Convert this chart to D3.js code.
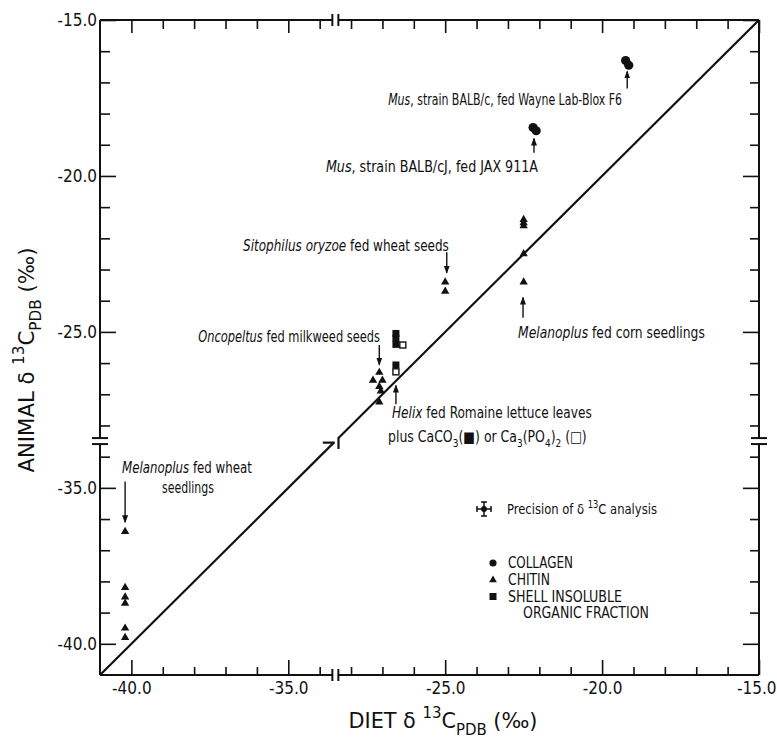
<!DOCTYPE html>
<html>
<head>
<meta charset="utf-8">
<script src="https://d3js.org/d3.v7.min.js"></script>
<style>
  body { margin: 0; background: #fff; }
  svg text { font-family: "Liberation Sans Narrow", "DejaVu Sans Condensed", "Roboto Condensed", sans-serif; fill: #111; }
</style>
</head>
<body>
<div id="chart"></div>
<script>
// diet vs animal delta 13C (per mil, PDB)
var collagen = [[-19.25, -16.3], [-19.15, -16.45], [-22.2, -18.45], [-22.1, -18.55]];
var chitin = [
  [-40.2, -36.4], [-40.2, -38.2], [-40.2, -38.5], [-40.2, -38.7], [-40.2, -39.5], [-40.2, -39.8],
  [-22.5, -21.4], [-22.5, -21.5], [-22.5, -21.6], [-22.5, -22.5], [-22.5, -23.4],
  [-25.0, -23.4], [-25.0, -23.7],
  [-27.1, -26.3], [-27.3, -26.55], [-27.0, -26.55], [-27.1, -26.75], [-27.05, -26.9], [-27.1, -27.25]
];
var shellCaCO3 = [[-26.57, -25.05], [-26.57, -25.2], [-26.57, -25.4], [-26.57, -26.06]];
var shellCaPO4 = [[-26.35, -25.42], [-26.57, -26.28]];

var xTicks = d3.range(-40, -33).concat(d3.range(-28, -14));
var yTicks = d3.range(-15, -29, -1).concat(d3.range(-34, -41, -1));
var majorX = [-40, -35, -25, -20, -15];
var majorY = [-15, -20, -25, -35, -40];

// arrows: x, from y, to y
var arrows = [
  [-19.2, -17.2, -16.65], [-22.17, -19.26, -18.8], [-24.95, -22.45, -23.1],
  [-27.1, -25.42, -26.05], [-26.57, -27.32, -26.72], [-22.52, -24.55, -23.9],
  [-40.2, -34.8, -36.1]
];

var W = 777, H = 741;
var L = 100, R = 759, T = 20, B = 675;
var cut = 5; // omitted span -33.5 .. -28.5 on both axes

var xs = d3.scaleLinear().domain([-41, -15 - cut]).range([L, R]);
var ys = d3.scaleLinear().domain([-41 + cut, -15]).range([B, T]);
function xf(v) { return v > -31 ? v - cut : v; }
function yf(v) { return v < -31 ? v + cut : v; }
function X(v) { return xs(xf(v)); }
function Y(v) { return ys(yf(v)); }

var svg = d3.select("#chart").append("svg").attr("width", W).attr("height", H);

svg.append("defs").append("marker")
  .attr("id", "head").attr("markerUnits", "userSpaceOnUse")
  .attr("markerWidth", 8).attr("markerHeight", 6)
  .attr("refX", 7).attr("refY", 3).attr("orient", "auto")
  .append("path").attr("d", "M0,0 L8,3 L0,6 z").attr("fill", "#111");

// ticks (inward on all four sides)
var minorX = xTicks.filter(function (d) { return majorX.indexOf(d) < 0; });
var minorY = yTicks.filter(function (d) { return majorY.indexOf(d) < 0; });

function ticks(axis, pos, vals, fold, size, fmt) {
  var g = svg.append("g").attr("transform", pos)
    .call(axis.tickValues(vals.map(fold)).tickSize(size).tickPadding(fmt ? 7 : 0)
      .tickFormat(function (d, i) { return fmt ? vals[i].toFixed(1) : ""; }));
  g.select(".domain").remove();
  g.selectAll("line").attr("stroke", "#111").attr("stroke-width", 1.6);
  g.selectAll("text").style("font-size", "17px");
  if (!fmt) g.selectAll("text").remove();
  return g;
}
ticks(d3.axisBottom(xs), "translate(0," + B + ")", minorX, xf, -8);
var bx = ticks(d3.axisBottom(xs), "translate(0," + B + ")", majorX, xf, -15, true);
bx.selectAll("text").filter(function (d, i) { return i === majorX.length - 1; })
  .attr("text-anchor", "end").attr("x", 17);
ticks(d3.axisTop(xs), "translate(0," + T + ")", minorX, xf, -9);
ticks(d3.axisTop(xs), "translate(0," + T + ")", majorX, xf, -13);
ticks(d3.axisLeft(ys), "translate(" + L + ",0)", minorY, yf, -10);
ticks(d3.axisLeft(ys), "translate(" + L + ",0)", majorY, yf, -16, true).selectAll("text").attr("x", -3);
ticks(d3.axisRight(ys), "translate(" + R + ",0)", minorY, yf, -9);
ticks(d3.axisRight(ys), "translate(" + R + ",0)", majorY, yf, -16);

// frame with breaks
var xb = xs(-33.5), yb = ys(-28.5), gap = 3;
var frame = svg.append("g").attr("stroke", "#111").attr("stroke-width", 2).attr("fill", "none");
[T, B].forEach(function (y) {
  frame.append("line").attr("x1", L).attr("x2", xb - gap).attr("y1", y).attr("y2", y);
  frame.append("line").attr("x1", xb + gap).attr("x2", R).attr("y1", y).attr("y2", y);
  [xb - gap, xb + gap].forEach(function (x) {
    frame.append("line").attr("x1", x).attr("x2", x).attr("y1", y - 6).attr("y2", y + 6);
  });
});
[L, R].forEach(function (x) {
  frame.append("line").attr("x1", x).attr("x2", x).attr("y1", T).attr("y2", yb - gap);
  frame.append("line").attr("x1", x).attr("x2", x).attr("y1", yb + gap).attr("y2", B);
  [yb - gap, yb + gap].forEach(function (y) {
    frame.append("line").attr("x1", x - 8).attr("x2", x + 8).attr("y1", y).attr("y2", y);
  });
});

// 1:1 line, broken like the axes
var d1 = svg.append("g").attr("stroke", "#111").attr("stroke-width", 2.2);
d1.append("line").attr("x1", X(-41)).attr("y1", Y(-41)).attr("x2", X(-33.55)).attr("y2", Y(-33.55));
d1.append("line").attr("x1", X(-33.55) - 11).attr("y1", Y(-33.55)).attr("x2", X(-33.55) + 1).attr("y2", Y(-33.55));
d1.append("line").attr("x1", X(-28.4)).attr("y1", Y(-28.4)).attr("x2", X(-15)).attr("y2", Y(-15));
d1.append("line").attr("x1", X(-28.4)).attr("y1", Y(-28.4) - 1).attr("x2", X(-28.4)).attr("y2", Y(-28.4) + 11);

// points
svg.append("g").selectAll("circle").data(collagen).join("circle")
  .attr("cx", function (d) { return X(d[0]); }).attr("cy", function (d) { return Y(d[1]); })
  .attr("r", 4.6).attr("fill", "#111");
svg.append("g").selectAll("path").data(chitin).join("path")
  .attr("d", d3.symbol(d3.symbolTriangle, 30))
  .attr("transform", function (d) { return "translate(" + X(d[0]) + "," + Y(d[1]) + ")"; })
  .attr("fill", "#111");
svg.append("g").selectAll("rect").data(shellCaCO3).join("rect")
  .attr("x", function (d) { return X(d[0]) - 3.5; }).attr("y", function (d) { return Y(d[1]) - 3.5; })
  .attr("width", 7).attr("height", 7).attr("fill", "#111");
svg.append("g").selectAll("rect").data(shellCaPO4).join("rect")
  .attr("x", function (d) { return X(d[0]) - 3; }).attr("y", function (d) { return Y(d[1]) - 3; })
  .attr("width", 6).attr("height", 6).attr("fill", "#fff").attr("stroke", "#111").attr("stroke-width", 1.4);

svg.append("g").selectAll("line").data(arrows).join("line")
  .attr("x1", function (d) { return X(d[0]); }).attr("x2", function (d) { return X(d[0]); })
  .attr("y1", function (d) { return Y(d[1]); }).attr("y2", function (d) { return Y(d[2]); })
  .attr("stroke", "#111").attr("stroke-width", 1.4).attr("marker-end", "url(#head)");

// rich text: parts = [text, style] with style "i" italic, "sup", "sub";
// len squeezes the line horizontally to that width (narrow lettering)
function label(x, y, anchor, size, parts, len, rotate) {
  var t = svg.append("text").attr("text-anchor", anchor).style("font-size", size + "px");
  var shift = 0;
  parts.forEach(function (p) {
    var s = p[1] || "";
    var want = s === "sup" ? -0.45 * size : s === "sub" ? 0.3 * size : 0;
    var ts = t.append("tspan").text(p[0]).attr("dy", want - shift);
    shift = want;
    if (s === "i") ts.style("font-style", "italic");
    if (s === "sup" || s === "sub") ts.style("font-size", (size * 0.72) + "px");
  });
  var sx = len ? len / t.node().getBBox().width : 1;
  t.attr("transform", "translate(" + x + "," + y + ")" + (rotate ? " rotate(-90)" : "") + " scale(" + sx + ",1)");
  return t;
}

var fs = 15;
label(622, 105, "end", fs, [["Mus", "i"], [", strain BALB/c, fed Wayne Lab-Blox F6"]], 234);
label(538, 172, "end", fs, [["Mus", "i"], [", strain BALB/cJ, fed JAX 911A"]], 213);
label(243, 251, "start", fs, [["Sitophilus oryzoe", "i"], ["  fed wheat seeds"]], 206);
label(380, 342, "end", fs, [["Oncopeltus", "i"], ["  fed milkweed seeds"]], 182);
label(518, 338, "start", fs, [["Melanoplus", "i"], ["  fed corn seedlings"]], 187);
label(392, 418, "start", fs, [["Helix", "i"], ["  fed Romaine lettuce leaves"]], 200);
label(388, 442, "start", fs, [["plus CaCO"], ["3", "sub"], ["(\u25A0) or Ca"], ["3", "sub"], ["(PO"], ["4", "sub"], [")"], ["2", "sub"], [" (\u25A1)"]], 199);
label(122, 473, "start", fs, [["Melanoplus", "i"], ["  fed wheat"]], 130);
label(188, 493, "middle", fs, [["seedlings"]], 52);

// precision of analysis
var px = 484, py = 509, e = 7;
var pc = svg.append("g").attr("stroke", "#111").attr("stroke-width", 1.5);
pc.append("line").attr("x1", px - e).attr("x2", px + e).attr("y1", py).attr("y2", py);
pc.append("line").attr("x1", px).attr("x2", px).attr("y1", py - e).attr("y2", py + e);
[-e, e].forEach(function (o) {
  pc.append("line").attr("x1", px + o).attr("x2", px + o).attr("y1", py - 3).attr("y2", py + 3);
  pc.append("line").attr("x1", px - 3).attr("x2", px + 3).attr("y1", py + o).attr("y2", py + o);
});
pc.append("circle").attr("cx", px).attr("cy", py).attr("r", 2.2).attr("fill", "#111");
label(507, 514, "start", 14, [["Precision of  \u03B4 "], ["13", "sup"], ["C analysis"]], 150);

// legend
var lx = 493;
svg.append("circle").attr("cx", lx).attr("cy", 563).attr("r", 3.6).attr("fill", "#111");
svg.append("path").attr("d", d3.symbol(d3.symbolTriangle, 26)).attr("transform", "translate(" + lx + ",580)").attr("fill", "#111");
svg.append("rect").attr("x", lx - 3.5).attr("y", 593).attr("width", 7).attr("height", 7).attr("fill", "#111");
label(508, 568, "start", 15, [["COLLAGEN"]], 65);
label(508, 585, "start", 15, [["CHITIN"]], 42);
label(508, 602, "start", 15, [["SHELL INSOLUBLE"]], 114);
label(523, 618, "start", 15, [["ORGANIC FRACTION"]], 126);

// axis titles
label(443, 728, "middle", 22, [["DIET  \u03B4 "], ["13", "sup"], ["C"], ["PDB", "sub"], ["  (\u2030)"]], 189);
label(34, 360, "middle", 22, [["ANIMAL  \u03B4 "], ["13", "sup"], ["C"], ["PDB", "sub"], ["  (\u2030)"]], 225, true);
</script>
</body>
</html>
